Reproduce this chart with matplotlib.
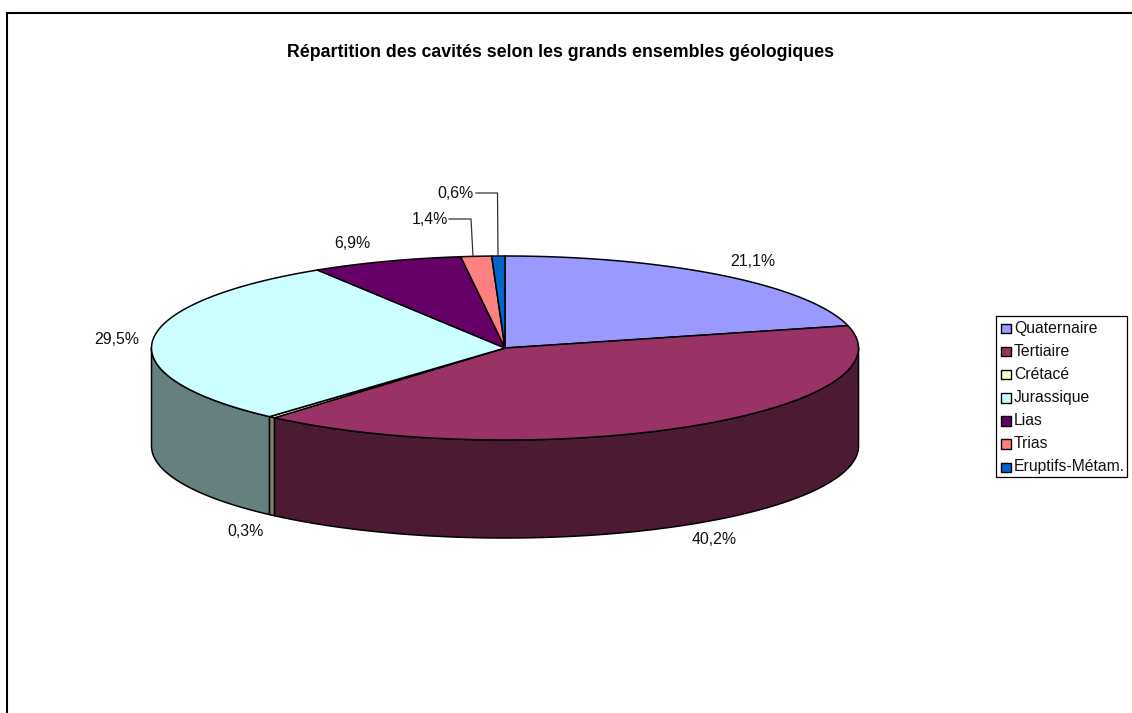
import numpy as np
import matplotlib
matplotlib.use("Agg")
import matplotlib.pyplot as plt
from matplotlib.patches import Polygon, Rectangle

categories = ["Quaternaire", "Tertiaire", "Crétacé", "Jurassique", "Lias", "Trias", "Eruptifs-Métam."]
values = [21.1, 40.2, 0.3, 29.5, 6.9, 1.4, 0.6]
labels = ["21,1%", "40,2%", "0,3%", "29,5%", "6,9%", "1,4%", "0,6%"]
top_colors = ["#9999FF", "#993366", "#FFFFCC", "#CCFFFF", "#660066", "#FF8080", "#0066CC"]
side_colors = ["#4D4D80", "#4D1A33", "#808066", "#668080", "#330033", "#804040", "#003366"]
title = "Répartition des cavités selon les grands ensembles géologiques"

W, H = 1132, 713
CX, CY, RX, RY, DEPTH = 505.0, 348.0, 353.5, 92.0, 98.0
FONT = "Liberation Sans"

fig = plt.figure(figsize=(W / 100, H / 100), dpi=100)
ax = fig.add_axes([0, 0, 1, 1])
ax.set_xlim(0, W)
ax.set_ylim(H, 0)
ax.axis("off")


def ell(deg):
    a = np.radians(deg)
    return CX + RX * np.sin(a), CY - RY * np.cos(a)


total = sum(values)
edges = np.concatenate([[0], np.cumsum(values)]) / total * 360.0

# side walls (front half only), back to front from both sides
for i in np.argsort(-np.abs((edges[:-1] + edges[1:]) / 2 - 180)):
    lo, hi = max(edges[i], 90.0), min(edges[i + 1], 270.0)
    if hi <= lo:
        continue
    xs, ys = ell(np.linspace(lo, hi, 120))
    pts = np.vstack([np.column_stack([xs, ys]),
                     np.column_stack([xs[::-1], ys[::-1] + DEPTH])])
    ax.add_patch(Polygon(pts, closed=True, fc=side_colors[i], ec="black", lw=1.1, joinstyle="round"))

# top face
for i in range(len(values)):
    xs, ys = ell(np.linspace(edges[i], edges[i + 1], 160))
    pts = np.vstack([[CX, CY], np.column_stack([xs, ys])])
    ax.add_patch(Polygon(pts, closed=True, fc=top_colors[i], ec="black", lw=1.1, joinstyle="round"))

# data labels (centre positions in figure pixels)
label_pos = [(753, 261), (714, 539), (246, 531), (117, 340), (352, 244), (430, 220), (456, 193)]
for s, (x, y) in zip(labels, label_pos):
    ax.text(x, y, s, ha="center", va="center", fontsize=11.4, family=FONT, color="#111111")

# leader lines
ax.plot([449, 471, 473], [219, 219, 256], color="#333333", lw=0.9)
ax.plot([476, 497.5, 498], [193, 193, 256], color="#333333", lw=0.9)

ax.text(560.5, 52.5, title, ha="center", va="center", fontsize=12.75, fontweight="bold", family=FONT)

# outer frame (open on the right and at the bottom)
ax.plot([7, 7, W], [H, 13, 13], color="black", lw=1.5, solid_capstyle="butt", solid_joinstyle="miter")

# legend
ax.add_patch(Rectangle((995.5, 316), 131.5, 161, fc="white", ec="black", lw=0.9))
row_y = np.linspace(328, 467, len(categories))
for name, col, y in zip(categories, top_colors, row_y):
    ax.add_patch(Rectangle((1001, y - 4.5), 9.5, 9.5, fc=col, ec="black", lw=1.0))
    ax.text(1014, y, name, ha="left", va="center", fontsize=11.3, family=FONT, color="#111111")

fig.savefig("out.png", dpi=100, facecolor="white")
